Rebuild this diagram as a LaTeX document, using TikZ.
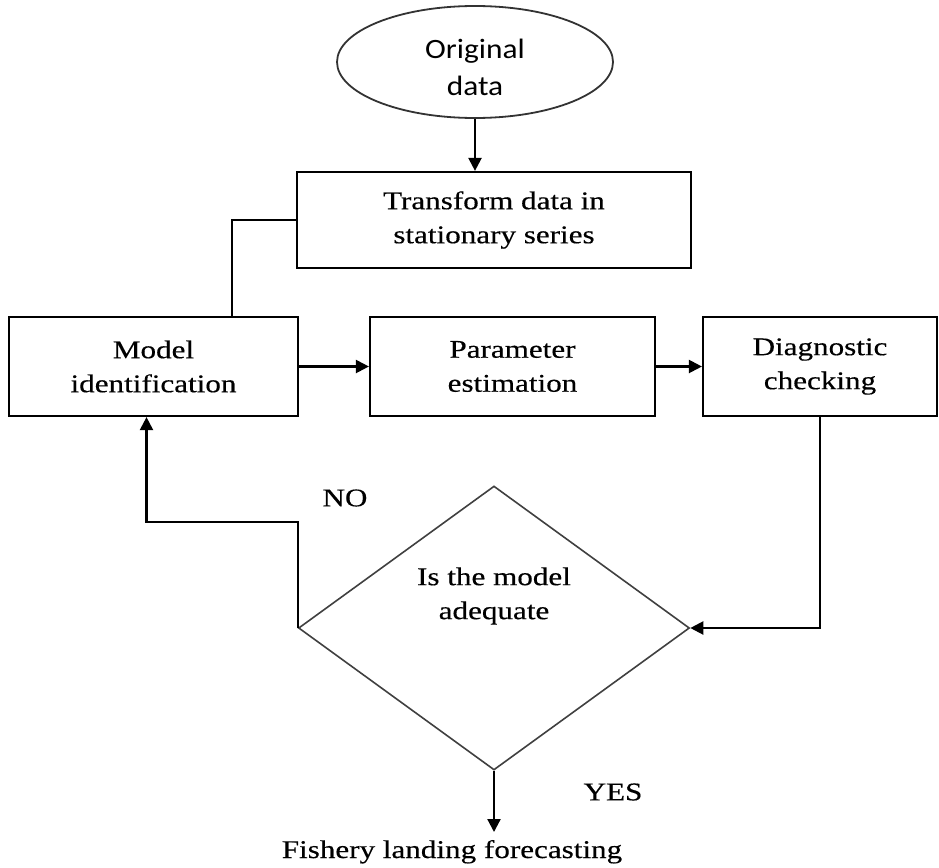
\documentclass[tikz,border=0pt]{standalone}
\usepackage{fontspec}
\setmainfont{Liberation Serif}[FakeStretch=1.22,FakeBold=0.4]
\newfontfamily\ovalfont{Carlito}[FakeStretch=1.12]
\usetikzlibrary{arrows.meta,shapes.geometric}
\begin{document}
\begin{tikzpicture}[x=1pt,y=1pt,
  txt/.style={font=\fontsize{25.5}{34}\selectfont, align=center},
  box/.style={txt, draw, line width=2.2pt, inner sep=0pt},
  line/.style={line width=2.2pt},
  arr/.style={line width=2.2pt, -{Triangle[length=13pt,width=13pt]}}]
\fill[white] (0,0) rectangle (939,-867);
\useasboundingbox (0,0) rectangle (939,-867);
\node[draw, ellipse, line width=1.8pt, draw=black!80, minimum width=276pt, minimum height=112pt, inner sep=0pt] (orig) at (475,-62) {};
\node[font=\ovalfont\fontsize{28}{37}\selectfont, align=center] (origtxt) at (475,-67) {Original\\data};
\node[box, minimum width=394pt, minimum height=96pt] (trans) at (494,-220) {Transform data in\\stationary series};
\node[box, minimum width=289pt, minimum height=99pt] (model) at (153.5,-366.5) {Model\\identification};
\node[box, minimum width=285pt, minimum height=99pt] (param) at (512.5,-366.5) {Parameter\\estimation};
\node[box, minimum width=234pt, minimum height=99pt] (diag) at (820,-366.5) {Diagnostic\\checking};
\node[diamond, draw=black!75, line width=1.6pt, minimum width=391pt, minimum height=284pt, inner sep=0pt] (dec) at (494,-628) {};
\node[txt] (dectxt) at (494,-596) {Is the model\\adequate};
\node[txt, anchor=base] (fore) at (452,-858) {Fishery landing forecasting};
\coordinate (forein) at (494,-832);
\node[txt] (no) at (345,-498) {NO};
\node[txt] (yes) at (613,-792) {YES};
\draw[arr] (orig.south) -- (orig.south |- trans.north);
\draw[line] (trans.west) -| ([xshift=78.5pt]model.north);
\draw[arr] (model.east) -- (param.west);
\draw[arr] (param.east) -- (diag.west);
\draw[arr] (diag.south) |- (dec.east);
\draw[arr] (dec.west) -- ++(0,106) -| ([xshift=-7pt]model.south);
\draw[arr] (dec.south) -- (forein);
\end{tikzpicture}
\end{document}
